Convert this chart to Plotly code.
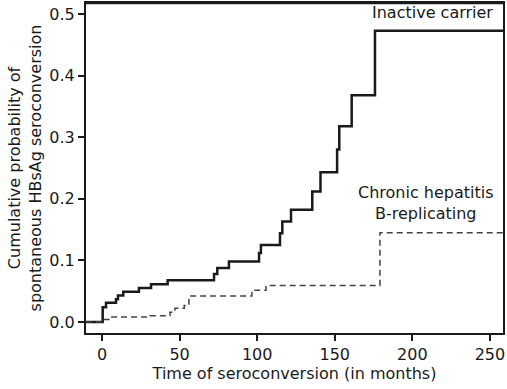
import plotly.graph_objects as go

# Inactive carrier: step times (months) and cumulative probability after each step
inactive_t = [-10.3, 0.45, 2.6, 9.0, 10.3, 13.7, 23.8, 31.6, 42.3, 72.2, 74.3, 81.8,
              101.2, 102.4, 114.7, 116.2, 121.8, 135.5, 140.8, 151.5, 152.9, 160.9, 175.9, 258.4]
inactive_p = [0.0, 0.024, 0.031, 0.037, 0.043, 0.049, 0.055, 0.061, 0.0675, 0.078, 0.0877, 0.098,
              0.112, 0.125, 0.144, 0.163, 0.182, 0.212, 0.243, 0.280, 0.318, 0.368, 0.473, 0.473]

# Chronic hepatitis B-replicating
chb_t = [-10.3, 1.0, 5.0, 30.9, 43.8, 47.0, 53.0, 56.0, 96.6, 105.7, 179.1, 258.4]
chb_p = [0.0, 0.004, 0.008, 0.010, 0.0156, 0.022, 0.0265, 0.042, 0.0516, 0.059, 0.145, 0.145]

x_ticks = [0, 50, 100, 150, 200, 250]
y_ticks = [0.0, 0.1, 0.2, 0.3, 0.4, 0.5]

FONT = "DejaVu Sans"
FS = 16

fig = go.Figure()
fig.add_trace(go.Scatter(x=inactive_t, y=inactive_p, mode="lines", line_shape="hv",
                         line=dict(color="#1a1a1a", width=2.5), name="Inactive carrier"))
fig.add_trace(go.Scatter(x=chb_t, y=chb_p, mode="lines", line_shape="hv",
                         line=dict(color="#444444", width=1.5, dash="6px,4px"),
                         name="Chronic hepatitis B-replicating"))

fig.add_annotation(x=0.981, y=0.502, xref="paper", yref="y", text="Inactive carrier",
                   showarrow=False, xanchor="right", yanchor="middle",
                   font=dict(family=FONT, size=FS, color="#1a1a1a"))
fig.add_annotation(x=0.815, y=0.193, xref="paper", yref="y",
                   text="Chronic hepatitis<br>B-replicating",
                   showarrow=False, xanchor="center", yanchor="middle", align="center",
                   font=dict(family=FONT, size=FS, color="#1a1a1a"))

# top frame edge (safety, in case the mirrored axis line is clipped)
fig.add_shape(type="line", xref="paper", yref="paper", x0=0, x1=1, y0=1, y1=1,
              line=dict(color="#1a1a1a", width=2.5))

axis_common = dict(showline=True, mirror=True, linecolor="#1a1a1a", linewidth=2,
                   ticks="outside", ticklen=6, tickwidth=2, tickcolor="#1a1a1a",
                   showgrid=False, zeroline=False, automargin=False,
                   tickfont=dict(family=FONT, size=FS, color="#1a1a1a"))

fig.update_layout(
    width=507, height=389,
    margin=dict(l=86, r=4, t=3, b=56),
    paper_bgcolor="white", plot_bgcolor="white",
    showlegend=False,
    font=dict(family=FONT, color="#1a1a1a"),
    xaxis=dict(range=[-10.3, 258.4], tickvals=x_ticks,
               title=dict(text="Time of seroconversion (in months)", standoff=5,
                          font=dict(family=FONT, size=FS)),
               **axis_common),
    yaxis=dict(range=[-0.018, 0.518], tickvals=y_ticks, tickformat=".1f",
               title=dict(text="Cumulative probability of<br>spontaneous HBsAg seroconversion",
                          standoff=4, font=dict(family=FONT, size=FS)),
               **axis_common),
)

fig.write_html("out.html", config={"displayModeBar": False},
               post_script="document.body.style.margin='0';document.body.style.overflow='hidden';")
